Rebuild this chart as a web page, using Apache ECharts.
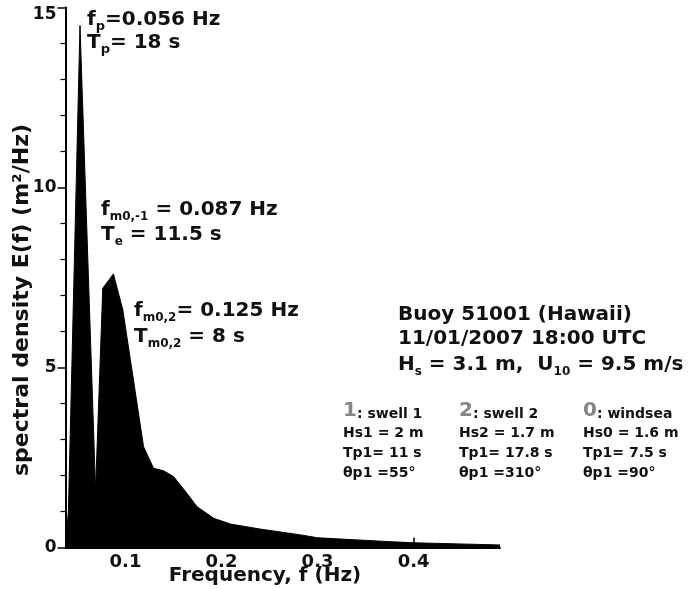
<!DOCTYPE html>
<html>
<head>
<meta charset="utf-8">
<script src="https://cdn.jsdelivr.net/npm/echarts@6/dist/echarts.min.js"></script>
<style>
html,body{margin:0;padding:0;background:#fff;}
#c{width:689px;height:589px;}
</style>
</head>
<body>
<div id="c"></div>
<script>
// ---- data ----
var freq   = [0.0375, 0.0405, 0.0526, 0.0688, 0.0763, 0.0874, 0.0972, 0.1188, 0.1292, 0.1397, 0.1501, 0.1641, 0.1746, 0.192, 0.2094, 0.2408, 0.2826, 0.30, 0.3419, 0.3767, 0.4007, 0.4464, 0.49];
var energy = [0,      1.0,    14.5,   1.6,    7.2,    7.6,    6.6,    2.8,    2.2,    2.13,   1.97,   1.5,    1.13,   0.81,  0.65,   0.51,   0.35,   0.27, 0.21,   0.16,   0.13,   0.10,   0.07];
var xTickLabels = [0.1, 0.2, 0.3, 0.4];
var xMinorTicks = [0.04,0.05,0.06,0.07,0.08,0.09,0.11,0.12,0.13,0.14,0.15,0.16,0.17,0.18,0.19,0.21,0.22,0.23,0.24,0.25,0.26,0.27,0.28,0.29,0.31,0.32,0.33,0.34,0.35,0.36,0.37,0.38,0.39,0.41,0.42,0.43,0.44,0.45,0.46,0.47,0.48];

var FONT = 'DejaVu Sans';
var INK = '#111';

var seriesData = freq.map(function (f, i) { return [f, energy[i]]; });

// rich-text line: main tokens with lineHeight 28, subscripts pushed down by top padding
var LH = 28;
function mainStyle(size) {
  return {fontFamily: FONT, fontWeight: 'bold', fontSize: size, lineHeight: LH, fill: INK};
}
function subStyle(size) {
  return {fontFamily: FONT, fontWeight: 'bold', fontSize: size, lineHeight: 14, padding: [14, 0, 0, 0], fill: INK};
}
function txt(x, baseline, text, size, rich, off) {
  var o = off != null ? off : 0.846 * size;
  return {
    type: 'text', x: x, y: baseline - o, z: 100,
    style: {
      text: text, rich: rich, fontFamily: FONT, fontWeight: 'bold', fontSize: size,
      lineHeight: size, fill: INK, align: 'left', verticalAlign: 'top'
    }
  };
}
var SUBOFF = LH / 2 + 0.346 * 20;
var rich20 = {m: mainStyle(20), s: subStyle(13), t: subStyle(12)};
var richComp = {
  b: {fontFamily: FONT, fontWeight: 'bold', fontSize: 20, lineHeight: 20, fill: '#858585'},
  c: {fontFamily: FONT, fontWeight: 'bold', fontSize: 14, lineHeight: 14, verticalAlign: 'bottom', fill: INK}
};

var graphics = [
  txt(87, 27, '{m|f}{s|p}{m|=0.056 Hz}', 20, rich20, SUBOFF),
  txt(87, 50, '{m|T}{s|p}{m|= 18 s}', 20, rich20, SUBOFF),
  txt(101, 217, '{m|f}{t|m0,-1}{m| = 0.087 Hz}', 20, rich20, SUBOFF),
  txt(101, 242, '{m|T}{t|e}{m| = 11.5 s}', 20, rich20, SUBOFF),
  txt(134, 318, '{m|f}{t|m0,2}{m|= 0.125 Hz}', 20, rich20, SUBOFF),
  txt(134, 344, '{m|T}{t|m0,2}{m| = 8 s}', 20, rich20, SUBOFF),
  txt(398, 322, 'Buoy 51001 (Hawaii)', 20),
  txt(398, 346, '11/01/2007 18:00 UTC', 20),
  txt(398, 372, '{m|H}{t|s}{m| = 3.1 m,  U}{t|10}{m| = 9.5 m/s}', 20, rich20, SUBOFF)
];

var comps = [
  {x: 343, head: '1', name: ': swell 1', lines: ['Hs1 = 2 m', 'Tp1= 11 s', 'θp1 =55°']},
  {x: 459, head: '2', name: ': swell 2', lines: ['Hs2 = 1.7 m', 'Tp1= 17.8 s', 'θp1 =310°']},
  {x: 583, head: '0', name: ': windsea', lines: ['Hs0 = 1.6 m', 'Tp1= 7.5 s', 'θp1 =90°']}
];
comps.forEach(function (c) {
  graphics.push(txt(c.x, 418, '{b|' + c.head + '}{c|' + c.name + '}', 20, richComp));
  c.lines.forEach(function (l, i) {
    graphics.push(txt(c.x, 438 + 20 * i, l, 14));
  });
});

// axis names
graphics.push({
  type: 'text', x: 265, y: 576, z: 100,
  style: {text: 'Frequency, f (Hz)', fontFamily: FONT, fontWeight: 'bold', fontSize: 20, fill: INK, align: 'center', verticalAlign: 'middle'}
});
graphics.push({
  type: 'text', x: 22, y: 300, rotation: Math.PI / 2, z: 100,
  style: {text: 'spectral density E(f) (m²/Hz)', fontFamily: FONT, fontWeight: 'bold', fontSize: 22, fill: INK, align: 'center', verticalAlign: 'middle'}
});

var chart = echarts.init(document.getElementById('c'), null, {renderer: 'canvas'});
chart.setOption({
  backgroundColor: '#fff',
  animation: false,
  grid: {left: 65.5, right: 189, top: 7.5, bottom: 41.5, containLabel: false},
  xAxis: [{
    type: 'value', min: 0.0375, max: 0.49,
    axisLine: {show: true, lineStyle: {color: '#000', width: 2}},
    axisTick: {show: true, inside: true, length: 10, customValues: xTickLabels, lineStyle: {color: '#000', width: 1.5}},
    axisLabel: {show: true, customValues: xTickLabels, margin: 6, color: INK, fontFamily: FONT, fontWeight: 'bold', fontSize: 18,
      formatter: function (v) { return v.toFixed(1); }},
    splitLine: {show: false}
  }, {
    type: 'value', min: 0.0375, max: 0.49, position: 'bottom',
    axisLine: {show: false},
    axisTick: {show: true, inside: true, length: 3, customValues: xMinorTicks, lineStyle: {color: '#000', width: 1}},
    axisLabel: {show: false},
    splitLine: {show: false}
  }],
  yAxis: {
    type: 'value', min: 0, max: 15, interval: 5,
    axisLine: {show: true, lineStyle: {color: '#000', width: 2}},
    axisTick: {show: true, inside: false, length: 8, lineStyle: {color: '#000', width: 1.5}},
    minorTick: {show: true, splitNumber: 5, length: 5, lineStyle: {color: '#000', width: 1.2}},
    axisLabel: {margin: 9, color: INK, fontFamily: FONT, fontWeight: 'bold', fontSize: 17,
      formatter: function (v) { return v === 15 ? '{top|15}' : String(v); },
      rich: {top: {fontFamily: FONT, fontWeight: 'bold', fontSize: 17, color: INK, padding: [15, 0, 0, 0]}}},
    splitLine: {show: false}
  },
  series: [{
    type: 'line', xAxisIndex: 0, yAxisIndex: 0,
    data: seriesData, symbol: 'none', smooth: false,
    lineStyle: {color: '#000', width: 1},
    areaStyle: {color: '#000', opacity: 1}
  }],
  graphic: graphics
});
</script>
</body>
</html>
